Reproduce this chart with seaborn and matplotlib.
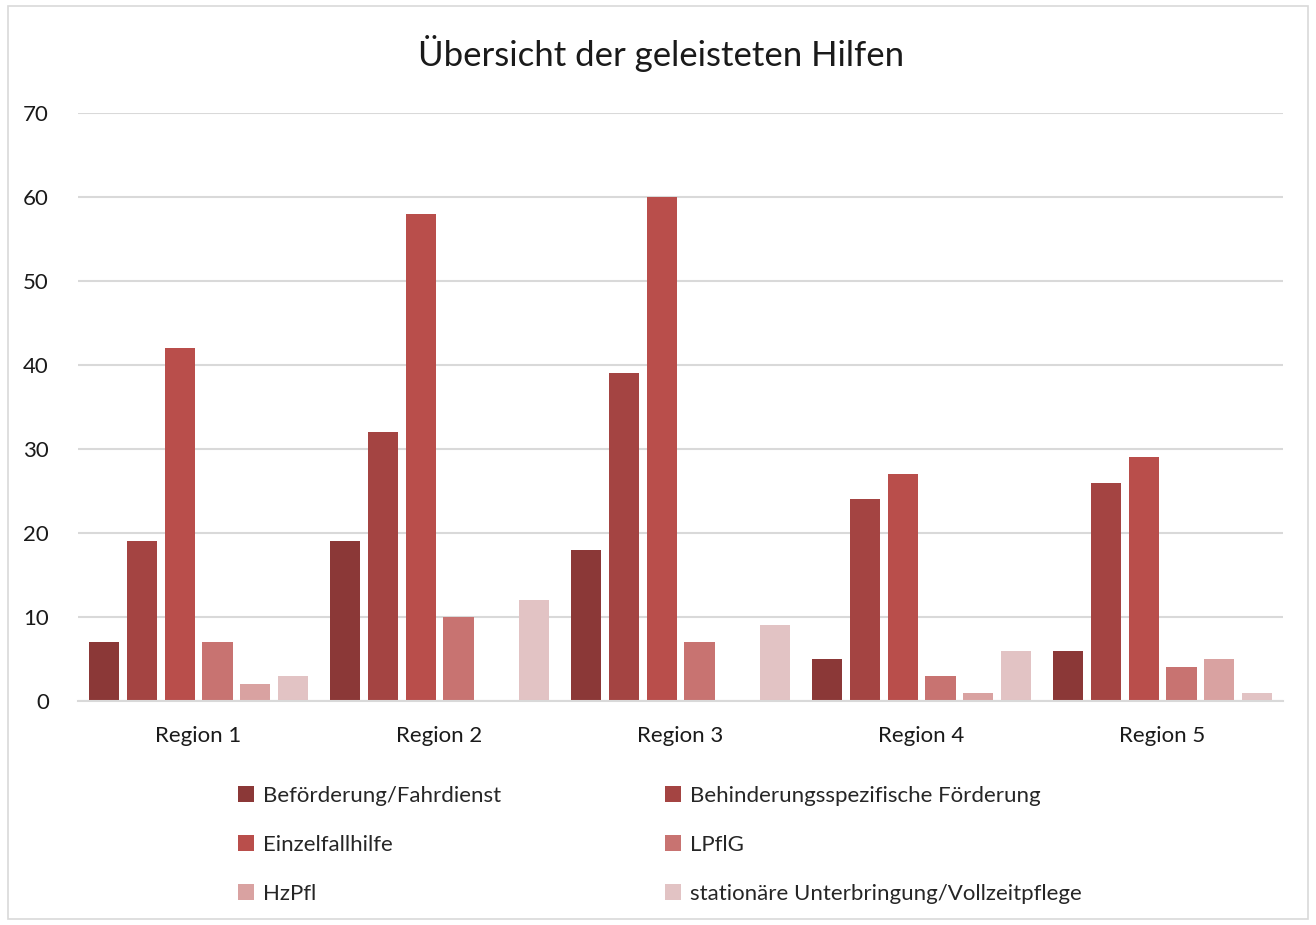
import numpy as np
import pandas as pd
import matplotlib.pyplot as plt
import seaborn as sns
from matplotlib.patches import Rectangle

# Data
regions = ["Region 1", "Region 2", "Region 3", "Region 4", "Region 5"]
befoerderung = [7, 19, 18, 5, 6]
behinderung = [19, 32, 39, 24, 26]
einzelfall = [42, 58, 60, 27, 29]
lpflg = [7, 10, 7, 3, 4]
hzpfl = [2, 0, 0, 1, 5]
stationaer = [3, 12, 9, 6, 1]

series_names = [
    "Beförderung/Fahrdienst",
    "Behinderungsspezifische Förderung",
    "Einzelfallhilfe",
    "LPflG",
    "HzPfl",
    "stationäre Unterbringung/Vollzeitpflege",
]
colors = ["#8B3837", "#A44442", "#B94E4B", "#C87371", "#D9A2A1", "#E2C3C4"]

sns.set_theme(style="white")
plt.rcParams["font.family"] = ["Lato", "DejaVu Sans"]

rows = []
for name, vals in zip(series_names,
                      [befoerderung, behinderung, einzelfall, lpflg, hzpfl, stationaer]):
    for reg, v in zip(regions, vals):
        rows.append({"Region": reg, "Hilfe": name, "Anzahl": v})
df = pd.DataFrame(rows)

fig = plt.figure(figsize=(13.16, 9.25), dpi=100)
ax = fig.add_axes([0.0593, 0.2422, 0.9157, 0.6356])

sns.barplot(data=df, x="Region", y="Anzahl", hue="Hilfe", hue_order=series_names,
            palette=colors, width=0.94, gap=0.2, saturation=1, ax=ax,
            linewidth=0, legend=True)

ax.set_ylim(0, 70)
ax.set_yticks(range(0, 71, 10))
ax.set_xlim(-0.5, 4.5)
ax.yaxis.grid(True, color="#D9D9D9", linewidth=1.5)
ax.set_axisbelow(True)
for s in ["top", "right", "left"]:
    ax.spines[s].set_visible(False)
ax.spines["bottom"].set_color("#D9D9D9")
ax.spines["bottom"].set_linewidth(1.5)
ax.tick_params(axis="both", length=0, labelsize=16, colors="#1a1a1a")
ax.tick_params(axis="y", pad=21)
ax.tick_params(axis="x", pad=18)
ax.set_xlabel("")
ax.set_ylabel("")

fig.text(0.502, 0.942, "Übersicht der geleisteten Hilfen", ha="center", va="center",
         fontsize=25, color="#1a1a1a")

# row-wise legend order like the original
handles, labels = ax.get_legend_handles_labels()
ax.get_legend().remove()
order = [0, 2, 4, 1, 3, 5]
fig.legend([handles[i] for i in order], [labels[i] for i in order],
           loc="upper left", bbox_to_anchor=(0.166, 0.172),
           ncol=2, frameon=False, fontsize=16, handlelength=0.7, handleheight=0.7,
           handletextpad=0.4, columnspacing=7.4, labelspacing=1.3)

fig.patches.append(Rectangle((0.006, 0.006), 0.988, 0.987, transform=fig.transFigure,
                             fill=False, edgecolor="#D9D9D9", linewidth=1.2))

fig.savefig("out.png", dpi=100)
